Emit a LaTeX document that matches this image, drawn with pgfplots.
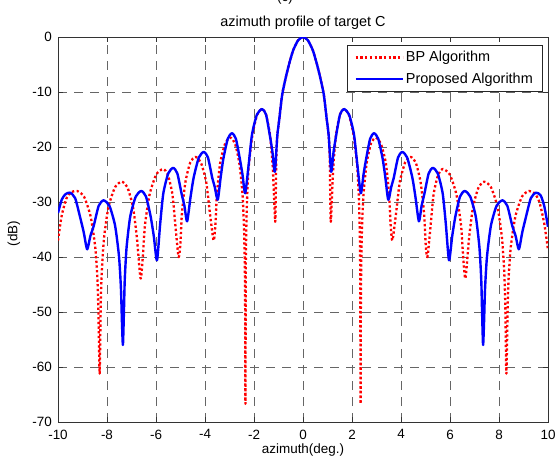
\documentclass[border=0pt]{standalone}
\usepackage{fontspec}
\setmainfont{Liberation Sans}
\usepackage{pgfplots}
\pgfplotsset{compat=1.18}
\begin{document}
\fontsize{13.5}{16}\selectfont
\begin{tikzpicture}
\path[use as bounding box] (-58bp,-41bp) rectangle (500bp,422bp);
\begin{axis}[
  at={(0,0)}, anchor=south west,
  scale only axis, width=490bp, height=385bp,
  xmin=-10, xmax=10, ymin=-70, ymax=0,
  xtick={-10,-8,...,10}, ytick={-70,-60,...,0},
  tick align=inside, major tick length=5bp,
  grid=major,
  major grid style={black!60, line width=0.6bp, dash pattern=on 9bp off 7bp},
  axis line style={black!80, line width=0.6bp},
  tick style={black!80, line width=0.6bp},
  /pgf/number format/assume math mode=true,
  xticklabel style={yshift=-3bp},
  yticklabel style={xshift=-1.5bp},
  title={azimuth profile of target C},
  title style={at={(0.5,1)}, anchor=base, yshift=5bp, font=\fontsize{14.5}{17}\selectfont},
  xlabel={azimuth(deg.)},
  xlabel style={at={(axis description cs:0.5,-0.0727)}, anchor=center},
  ylabel={(dB)},
  ylabel style={at={(axis description cs:-0.0898,0.49)}, anchor=center},
  legend style={at={(0.988,0.979)}, anchor=north east, draw=black!85, line width=0.6bp,
    fill=white, inner xsep=7bp, inner ysep=4bp, row sep=5bp, cells={anchor=west},
    font=\fontsize{14.5}{17}\selectfont},
  legend image code/.code={\draw[#1] (0bp,0bp) -- (43bp,0bp); \path (0bp,0bp) -- (47bp,0bp);},
]
\addplot[red, line width=2.3bp, dash pattern=on 2.3bp off 2.4bp, line join=round, smooth, tension=0.4] coordinates {
(-10,-37) (-9.85,-32.5) (-9.65,-29.3) (-9.45,-28.2) (-9.22,-28)
(-8.94,-29.0) (-8.67,-32.6) (-8.48,-38.2) (-8.39,-44.1) (-8.35,-50.1) (-8.30,-61.2)
(-8.255,-48.4) (-8.21,-42.4) (-8.12,-36.5) (-7.94,-30.9) (-7.67,-27.3) (-7.40,-26.3)
(-7.17,-27.3) (-6.94,-30.9) (-6.78,-36.5) (-6.63,-43.9)
(-6.54,-40.1) (-6.45,-34.2) (-6.26,-28.6) (-5.99,-25.0) (-5.71,-24)
(-5.52,-25.0) (-5.33,-28.6) (-5.21,-34.2) (-5.08,-40)
(-5.01,-37.9) (-4.94,-32.0) (-4.80,-26.4) (-4.60,-22.8) (-4.39,-21.8)
(-4.17,-22.8) (-3.95,-26.4) (-3.80,-32.0) (-3.65,-37)
(-3.58,-34.4) (-3.51,-28.5) (-3.38,-22.9) (-3.17,-19.3) (-2.97,-18.3)
(-2.78,-19.3) (-2.60,-22.9) (-2.47,-28.5) (-2.41,-34.4) (-2.38,-40.4) (-2.362,-48.3) (-2.35,-66.7)
(-2.336,-43.1) (-2.316,-35.2) (-2.28,-29.2) (-2.21,-23.3) (-2.06,-17.7) (-1.87,-14.1) (-1.67,-13.1)
(-1.51,-14.1) (-1.35,-17.7) (-1.24,-23.3) (-1.18,-29.2) (-1.13,-33.5)
(-1.09,-22) (-1.05,-18) (-0.97,-15) (-0.85,-10.5) (-0.70,-7.3) (-0.56,-4.8) (-0.40,-2.4) (-0.20,-0.6) (0,0)
(0.20,-0.6) (0.40,-2.4) (0.56,-4.8) (0.70,-7.3) (0.85,-10.5) (0.97,-15) (1.05,-18) (1.09,-22)
(1.13,-33.5) (1.18,-29.2) (1.24,-23.3) (1.35,-17.7) (1.51,-14.1)
(1.67,-13.1) (1.87,-14.1) (2.06,-17.7) (2.21,-23.3) (2.28,-29.2) (2.316,-35.2) (2.336,-43.1)
(2.35,-66.7) (2.362,-48.3) (2.38,-40.4) (2.41,-34.4) (2.47,-28.5) (2.60,-22.9) (2.78,-19.3)
(2.97,-18.3) (3.17,-19.3) (3.38,-22.9) (3.51,-28.5) (3.58,-34.4)
(3.65,-37) (3.80,-32.0) (3.95,-26.4) (4.17,-22.8)
(4.39,-21.8) (4.60,-22.8) (4.80,-26.4) (4.94,-32.0) (5.01,-37.9)
(5.08,-40) (5.21,-34.2) (5.33,-28.6) (5.52,-25.0)
(5.71,-24) (5.99,-25.0) (6.26,-28.6) (6.45,-34.2) (6.54,-40.1)
(6.63,-43.9) (6.78,-36.5) (6.94,-30.9) (7.17,-27.3)
(7.40,-26.3) (7.67,-27.3) (7.94,-30.9) (8.12,-36.5) (8.21,-42.4) (8.255,-48.4)
(8.30,-61.2) (8.35,-50.1) (8.39,-44.1) (8.48,-38.2) (8.67,-32.6) (8.94,-29.0)
(9.22,-28) (9.45,-28.4) (9.65,-30) (9.85,-34) (10,-38.7)
};
\addlegendentry{BP Algorithm}
\addplot[blue, line width=2.4bp, line join=round, smooth, tension=0.4] coordinates {
(-10,-32) (-9.85,-29.6) (-9.7,-28.6) (-9.51,-28.3)
(-9.30,-29.3) (-9.09,-32.9) (-8.95,-35.5) (-8.81,-38.6)
(-8.68,-36.2) (-8.54,-34.3) (-8.34,-30.7) (-8.14,-29.7)
(-7.90,-30.7) (-7.67,-34.3) (-7.51,-39.9) (-7.43,-45.8) (-7.39,-51.8) (-7.35,-56)
(-7.31,-50.1) (-7.275,-44.1) (-7.20,-38.2) (-7.05,-32.6) (-6.825,-29.0) (-6.60,-28)
(-6.41,-29.0) (-6.22,-32.6) (-6.09,-36.2) (-5.96,-40.6)
(-5.83,-34.0) (-5.70,-28.4) (-5.50,-24.8) (-5.30,-23.8)
(-5.13,-24.8) (-4.96,-28.4) (-4.84,-30.7) (-4.73,-33.5)
(-4.59,-29.1) (-4.46,-25.5) (-4.25,-21.9) (-4.05,-20.9)
(-3.88,-21.9) (-3.71,-25.5) (-3.60,-27.3) (-3.48,-29.6)
(-3.36,-25.5) (-3.25,-22.1) (-3.07,-18.5) (-2.90,-17.5)
(-2.74,-18.5) (-2.58,-22.1) (-2.47,-25.0) (-2.36,-28.4)
(-2.22,-23.3) (-2.08,-17.7) (-1.88,-14.1) (-1.67,-13.1)
(-1.51,-14.1) (-1.36,-17.7) (-1.25,-20.8) (-1.15,-24.5)
(-1.05,-18) (-0.97,-15) (-0.85,-10.5) (-0.70,-7.3) (-0.56,-4.8) (-0.40,-2.4) (-0.20,-0.6) (0,0)
(0.20,-0.6) (0.40,-2.4) (0.56,-4.8) (0.70,-7.3) (0.85,-10.5) (0.97,-15) (1.05,-18)
(1.15,-24.5) (1.25,-20.8) (1.36,-17.7) (1.51,-14.1)
(1.67,-13.1) (1.88,-14.1) (2.08,-17.7) (2.22,-23.3)
(2.36,-28.4) (2.47,-25.0) (2.58,-22.1) (2.74,-18.5)
(2.90,-17.5) (3.07,-18.5) (3.25,-22.1) (3.36,-25.5)
(3.48,-29.6) (3.60,-27.3) (3.71,-25.5) (3.88,-21.9)
(4.05,-20.9) (4.25,-21.9) (4.46,-25.5) (4.59,-29.1)
(4.73,-33.5) (4.84,-30.7) (4.96,-28.4) (5.13,-24.8)
(5.30,-23.8) (5.50,-24.8) (5.70,-28.4) (5.83,-34.0)
(5.96,-40.6) (6.09,-36.2) (6.22,-32.6) (6.41,-29.0)
(6.60,-28) (6.825,-29.0) (7.05,-32.6) (7.20,-38.2) (7.275,-44.1) (7.31,-50.1)
(7.35,-56) (7.39,-51.8) (7.43,-45.8) (7.51,-39.9) (7.67,-34.3) (7.90,-30.7)
(8.14,-29.7) (8.34,-30.7) (8.54,-34.3) (8.68,-36.2)
(8.81,-38.6) (8.95,-35.5) (9.09,-32.9) (9.30,-29.3)
(9.51,-28.3) (9.7,-28.8) (9.85,-30.8) (10,-34.5)
};
\addlegendentry{Proposed Algorithm}
\end{axis}
\node[anchor=base] at (227bp,420bp) {(c)};
\end{tikzpicture}
\end{document}
